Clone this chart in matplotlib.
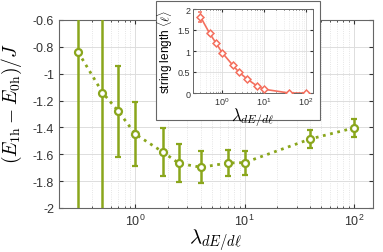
import matplotlib
matplotlib.use("Agg")
import matplotlib.pyplot as plt
from matplotlib.patches import Rectangle

plt.rcParams['font.family'] = ['Liberation Sans', 'DejaVu Sans']
plt.rcParams['mathtext.fontset'] = 'cm'

lam = [0.3, 0.5, 0.7, 1.0, 1.8, 2.5, 4.0, 7.0, 10.0, 40.0, 100.0]
energy = [-0.84, -1.14, -1.28, -1.45, -1.585, -1.667, -1.697, -1.665, -1.662, -1.486, -1.404]
energy_err = [2.0, 2.0, 0.34, 0.24, 0.18, 0.14, 0.12, 0.10, 0.09, 0.07, 0.065]
string_len = [1.82, 1.42, 1.20, 0.96, 0.66, 0.50, 0.33, 0.16, 0.09, 0.0, 0.0]
string_err = [0.12, 0.04, 0.03, 0.03, 0.03, 0.03, 0.03, 0.03, 0.02, 0.01, 0.01]

green = '#8aa61c'
salmon = '#f46f5e'
W, H = 383, 253

fig = plt.figure(figsize=(W/100, H/100), dpi=100)
ax = fig.add_axes([59/W, 1-209/H, (373-59)/W, (209-21)/H])
ax.errorbar(lam, energy, yerr=energy_err, color=green, lw=2, ls=':', marker='o',
            ms=5, mfc='white', mec=green, mew=1.6, ecolor=green, elinewidth=1.8,
            capsize=2.5, capthick=1.5, zorder=3)
ax.set_xscale('log')
ax.set_xlim(0.2, 150)
ax.set_ylim(-2, -0.6)
ax.set_yticks([-2, -1.8, -1.6, -1.4, -1.2, -1, -0.8, -0.6])
ax.set_yticklabels(['-2', '-1.8', '-1.6', '-1.4', '-1.2', '-1', '-0.8', '-0.6'])
ax.tick_params(which='both', direction='in', labelsize=9, colors='#333333', top=True, right=True)
ax.tick_params(which='major', length=3)
ax.tick_params(which='minor', length=1.5)
ax.grid(True, which='major', color='#dddddd', lw=0.7)
ax.grid(True, which='minor', color='#dddddd', lw=0.6, ls=':')
for s in ax.spines.values():
    s.set_color('#666666'); s.set_linewidth(0.8)
ax.set_xlabel(r'$\lambda_{dE/d\ell}$', fontsize=15)
ax.xaxis.set_label_coords(0.5, -0.10)
ax.set_ylabel(r'$(E_{\rm 1h} - E_{\rm 0h})/J$', fontsize=14)
ax.yaxis.set_label_coords(-0.113, 0.56)

# inset frame
fig.patches.append(Rectangle((156/W, 1-121/H), (320-156)/W, (121-2)/H, transform=fig.transFigure,
                             facecolor='white', edgecolor='#666666', lw=0.8, zorder=5))
ins = fig.add_axes([193/W, 1-94/H, (313-193)/W, (94-10)/H], zorder=6)
ins.errorbar(lam, string_len, yerr=string_err, color=salmon, lw=1.2, marker='D',
             ms=3.5, mfc='white', mec=salmon, mew=1.1, ecolor=salmon, elinewidth=1,
             capsize=1.5, zorder=3)
ins.set_xscale('log')
ins.set_xlim(0.2, 150)
ins.set_ylim(0, 2)
ins.set_yticks([0, 0.5, 1, 1.5, 2])
ins.set_yticklabels(['0', '0.5', '1', '1.5', '2'])
ins.tick_params(which='both', direction='in', labelsize=6.5, colors='#333333', top=True, right=True, pad=2)
ins.tick_params(which='major', length=2)
ins.tick_params(which='minor', length=1)
ins.grid(True, which='major', color='#dddddd', lw=0.6)
ins.grid(True, which='minor', color='#dddddd', lw=0.5, ls=':')
for s in ins.spines.values():
    s.set_color('#666666'); s.set_linewidth(0.7)
ins.set_xlabel(r'$\lambda_{dE/d\ell}$', fontsize=12, labelpad=-1)
ins.set_ylabel(r'string length $\langle\ell\rangle$', fontsize=8.5, labelpad=2)

fig.savefig('out.png', dpi=100)
